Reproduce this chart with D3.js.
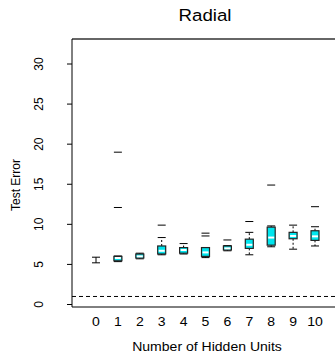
<!DOCTYPE html>
<html>
<head>
<meta charset="utf-8">
<script src="https://cdn.jsdelivr.net/npm/d3@7"></script>
<style>
  body { margin: 0; background: #fff; }
  text { font-family: "Liberation Sans", Arial, sans-serif; fill: #000; }
</style>
</head>
<body>
<svg id="chart" width="335" height="354"></svg>
<script>
// boxplot stats, per number of hidden units
var units    = [0, 1, 2, 3, 4, 5, 6, 7, 8, 9, 10]
var lowWhisk = [5.2, 5.35, 5.7, 6.2, 6.3, 5.85, 6.7, 6.2, 7.2, 6.9, 7.3]
var q1       = [5.55, 5.45, 5.8, 6.3, 6.4, 6.0, 6.8, 7.0, 7.4, 8.2, 8.0]
var median   = [5.55, 5.8, 6.0, 6.7, 6.8, 6.5, 7.0, 7.45, 8.35, 8.55, 8.5]
var q3       = [5.55, 6.0, 6.3, 7.3, 7.1, 7.1, 7.3, 8.15, 9.65, 9.0, 9.2]
var highWhisk= [5.9, 6.05, 6.4, 8.35, 7.6, 7.1, 7.35, 9.0, 9.8, 9.9, 9.7]
var outliers = [[], [19.0, 12.1], [], [9.9], [], [8.9, 8.55], [8.05], [10.35], [14.9], [], [12.2]]
var yTicks = [0, 5, 10, 15, 20, 25, 30]
var bayesError = 1.0

var svg = d3.select("#chart")

var x = d3.scaleLinear().domain([0, 10]).range([96, 315])
var y = d3.scaleLinear().domain([0, 30]).range([304.5, 64])

var frameL = 72, frameT = 39, frameB = 307, frameR = 338
var stretch = 1.17   // the source picture is a bit wider than tall

// frame
svg.append("line").attr("x1", frameL).attr("x2", frameR).attr("y1", frameT).attr("y2", frameT)
   .attr("stroke", "#666").attr("stroke-width", 2)
svg.append("line").attr("x1", frameL).attr("x2", frameR).attr("y1", frameB).attr("y2", frameB)
   .attr("stroke", "#000").attr("stroke-width", 1)
svg.append("line").attr("x1", frameL).attr("x2", frameL).attr("y1", frameT).attr("y2", frameB)
   .attr("stroke", "#000").attr("stroke-width", 1)

// y axis
var yAxis = svg.append("g")
yAxis.selectAll("line.tick").data(yTicks).enter().append("line")
   .attr("x1", frameL - 5).attr("x2", frameL)
   .attr("y1", function(d) { return y(d) }).attr("y2", function(d) { return y(d) })
   .attr("stroke", "#000")
yAxis.selectAll("text").data(yTicks).enter().append("text")
   .attr("transform", function(d) { return "translate(43," + y(d) + ") rotate(-90)" })
   .attr("text-anchor", "middle")
   .attr("font-size", "12px")
   .text(function(d) { return d })

svg.append("text")
   .attr("transform", "translate(20,185) rotate(-90)")
   .attr("text-anchor", "middle")
   .attr("font-size", "12px")
   .text("Test Error")

// x labels
svg.selectAll("text.xl").data(units).enter().append("text")
   .attr("class", "xl")
   .attr("transform", function(d) { return "translate(" + x(d) + ",325.5) scale(" + stretch + ",1)" })
   .attr("text-anchor", "middle")
   .attr("font-size", "12px")
   .text(function(d) { return d })

svg.append("text")
   .attr("transform", "translate(207,351) scale(" + stretch + ",1)")
   .attr("text-anchor", "middle")
   .attr("font-size", "12px")
   .text("Number of Hidden Units")

svg.append("text")
   .attr("transform", "translate(205,20.5) scale(1.1,1)")
   .attr("text-anchor", "middle")
   .attr("font-size", "17px")
   .text("Radial")

// bayes error line
svg.append("line")
   .attr("x1", frameL).attr("x2", frameR)
   .attr("y1", y(bayesError)).attr("y2", y(bayesError))
   .attr("stroke", "#000").attr("stroke-dasharray", "4,3")

// boxes
var bw = 8, cap = 4
var g = svg.append("g")
units.forEach(function(u, i) {
   var cx = x(u)
   var collapsed = q3[i] - q1[i] < 0.05
   // whiskers
   g.append("line").attr("x1", cx).attr("x2", cx)
    .attr("y1", y(q3[i])).attr("y2", y(highWhisk[i]))
    .attr("stroke", "#000").attr("stroke-dasharray", collapsed ? null : "2,2")
   g.append("line").attr("x1", cx).attr("x2", cx)
    .attr("y1", y(q1[i])).attr("y2", y(lowWhisk[i]))
    .attr("stroke", "#000").attr("stroke-dasharray", collapsed ? null : "2,2")
   g.append("line").attr("x1", cx - cap).attr("x2", cx + cap)
    .attr("y1", y(highWhisk[i])).attr("y2", y(highWhisk[i])).attr("stroke", "#000")
   g.append("line").attr("x1", cx - cap).attr("x2", cx + cap)
    .attr("y1", y(lowWhisk[i])).attr("y2", y(lowWhisk[i])).attr("stroke", "#000")
   // box
   if (!collapsed) {
      g.append("rect")
       .attr("x", cx - bw / 2).attr("y", y(q3[i]))
       .attr("width", bw).attr("height", y(q1[i]) - y(q3[i]))
       .attr("fill", "#00e5ee").attr("stroke", "#222").attr("stroke-width", 1.2)
      g.append("line").attr("x1", cx - bw / 2 + 1).attr("x2", cx + bw / 2 - 1)
       .attr("y1", y(median[i])).attr("y2", y(median[i]))
       .attr("stroke", "#fff").attr("stroke-width", 2)
   }
   // outliers drawn as dashes
   outliers[i].forEach(function(o) {
      g.append("line").attr("x1", cx - 4).attr("x2", cx + 4)
       .attr("y1", y(o)).attr("y2", y(o))
       .attr("stroke", "#000").attr("stroke-width", 1)
   })
})
</script>
</body>
</html>
